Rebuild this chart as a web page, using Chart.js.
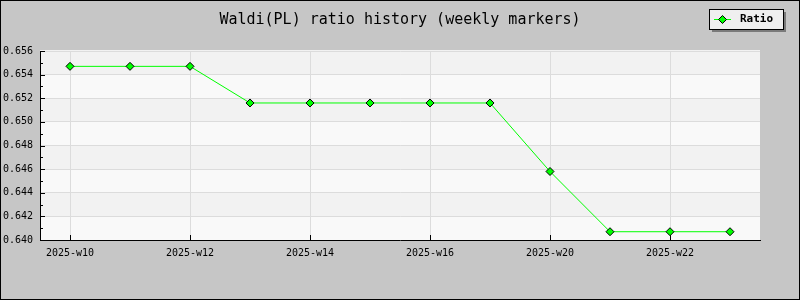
<!DOCTYPE html>
<html>
<head>
<meta charset="utf-8">
<script src="https://cdn.jsdelivr.net/npm/chart.js@4/dist/chart.umd.min.js"></script>
<style>
  html, body { margin: 0; padding: 0; background: #c6c6c6; }
  #wrap { width: 800px; height: 300px; }
</style>
</head>
<body>
<div id="wrap"><canvas id="chart" width="800" height="300"></canvas></div>
<script>
// weekly ratio readings
const weeks = ['2025-w10', '2025-w11', '2025-w12', '2025-w13', '2025-w14', '2025-w15',
  '2025-w16', '2025-w17', '2025-w20', '2025-w21', '2025-w22', '2025-w23']
const ratio = [0.6547, 0.6547, 0.6547, 0.6516, 0.6516, 0.6516,
  0.6516, 0.6516, 0.6458, 0.6407, 0.6407, 0.6407]
const yMin = 0.640
const yMax = 0.656
const yStep = 0.002

const titleText = 'Waldi(PL) ratio history (weekly markers)'
const legendText = 'Ratio'
const mono = '"DejaVu Sans Mono", "Liberation Mono", monospace'

// gray page, striped plot area, inward ticks, frame, title and legend
const decor = {
  id: 'decor',
  beforeDraw(chart) {
    const { ctx, chartArea: a, scales: { y } } = chart
    ctx.save()
    ctx.fillStyle = '#c6c6c6'
    ctx.fillRect(0, 0, chart.width, chart.height)
    const n = Math.round((yMax - yMin) / yStep)
    for (let i = 0; i < n; i++) {
      const yb = y.getPixelForValue(yMin + i * yStep)
      let yt = y.getPixelForValue(yMin + (i + 1) * yStep)
      if (i === n - 1) yt -= 1 // plot box starts a pixel above the top tick
      ctx.fillStyle = i % 2 === 0 ? '#f9f9f9' : '#f2f2f2'
      ctx.fillRect(a.left, yt, a.right - a.left, yb - yt)
    }
    ctx.restore()
  },
  beforeDatasetsDraw(chart) {
    const { ctx, chartArea: a, scales: { x, y } } = chart
    ctx.save()
    ctx.strokeStyle = '#000'
    ctx.lineWidth = 1
    ctx.beginPath()
    // y ticks, major and minor
    for (let v = 0; v <= Math.round((yMax - yMin) / 0.001); v++) {
      const py = Math.round(y.getPixelForValue(yMin + v * 0.001)) + 0.5
      const len = v % 2 === 0 ? 5 : 3
      ctx.moveTo(a.left, py)
      ctx.lineTo(a.left + len, py)
    }
    // x ticks at labelled weeks
    weeks.forEach((w, i) => {
      if (i % 2 !== 0) return
      const px = Math.round(x.getPixelForValue(i)) + 0.5
      ctx.moveTo(px, a.bottom)
      ctx.lineTo(px, a.bottom - 5)
    })
    ctx.stroke()
    ctx.restore()
  },
  afterDraw(chart) {
    const { ctx } = chart
    ctx.save()
    // outer frame
    ctx.strokeStyle = '#000'
    ctx.lineWidth = 1
    ctx.strokeRect(0.5, 0.5, chart.width - 1, chart.height - 1)

    // title
    ctx.fillStyle = '#000'
    ctx.font = '15px ' + mono
    ctx.textAlign = 'center'
    ctx.textBaseline = 'middle'
    ctx.fillText(titleText, 400, 20)

    // legend box with shadow
    const lx = 709, ly = 9, lw = 74, lh = 20
    ctx.fillStyle = '#7a7a7a'
    ctx.fillRect(lx + 3, ly + 3, lw, lh)
    ctx.fillStyle = '#efefef'
    ctx.fillRect(lx, ly, lw, lh)
    ctx.strokeRect(lx + 0.5, ly + 0.5, lw, lh)
    ctx.strokeStyle = '#00ff00'
    ctx.beginPath()
    ctx.moveTo(714, 19.5)
    ctx.lineTo(731, 19.5)
    ctx.stroke()
    ctx.beginPath()
    ctx.moveTo(722.5, 15.5)
    ctx.lineTo(726.5, 19.5)
    ctx.lineTo(722.5, 23.5)
    ctx.lineTo(718.5, 19.5)
    ctx.closePath()
    ctx.fillStyle = '#00ff00'
    ctx.fill()
    ctx.strokeStyle = '#000'
    ctx.stroke()
    ctx.fillStyle = '#000'
    ctx.font = 'bold 11px ' + mono
    ctx.textAlign = 'left'
    ctx.fillText(legendText, 740, 19.5)
    ctx.restore()
  }
}

new Chart(document.getElementById('chart'), {
  type: 'line',
  data: {
    labels: weeks,
    datasets: [{
      label: legendText,
      data: ratio,
      borderColor: '#00ff00',
      borderWidth: 1,
      pointStyle: 'rectRot',
      pointRadius: 4,
      pointBackgroundColor: '#00ff00',
      pointBorderColor: '#000',
      pointBorderWidth: 1,
      tension: 0
    }]
  },
  options: {
    responsive: false,
    animation: false,
    layout: { padding: { top: 51, right: 40, left: 0, bottom: 0 } },
    plugins: {
      legend: { display: false },
      title: { display: false },
      tooltip: { enabled: false }
    },
    scales: {
      x: {
        offset: true,
        afterFit: (s) => { s.height = 60 },
        grid: { offset: false, color: '#dcdcdc', drawTicks: false },
        border: { color: '#000' },
        ticks: {
          autoSkip: false,
          maxRotation: 0,
          padding: 7,
          color: '#000',
          font: { family: mono, size: 10 },
          callback: (v, i) => (i % 2 === 0 ? weeks[i] : null)
        }
      },
      y: {
        min: yMin,
        max: yMax,
        afterFit: (s) => { s.width = 40 },
        grid: { color: '#dcdcdc', drawTicks: false },
        border: { color: '#000' },
        ticks: {
          stepSize: yStep,
          padding: 7,
          color: '#000',
          font: { family: mono, size: 10 },
          callback: (v) => v.toFixed(3)
        }
      }
    }
  },
  plugins: [decor]
})
</script>
</body>
</html>
